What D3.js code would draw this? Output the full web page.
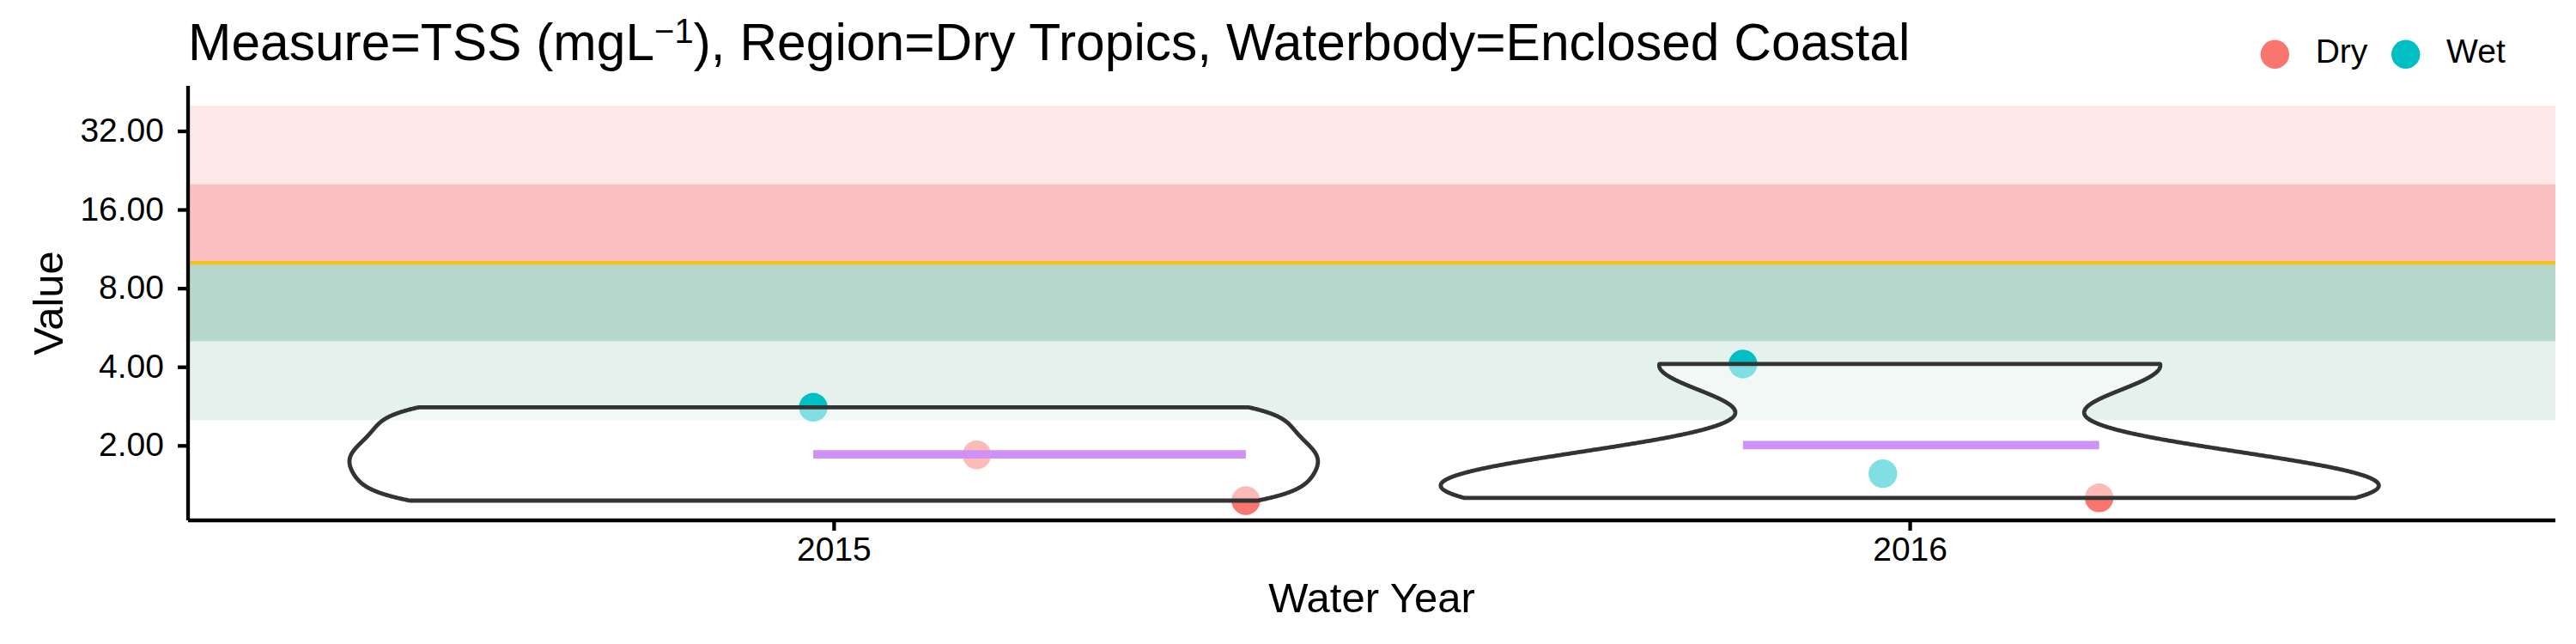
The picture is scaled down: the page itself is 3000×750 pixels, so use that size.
<!DOCTYPE html>
<html><head><meta charset="utf-8">
<script src="https://cdn.jsdelivr.net/npm/d3@7"></script>
<style>
body{margin:0;background:#fff}
svg{display:block}
text{font-family:"Liberation Sans", Arial, Helvetica, sans-serif; fill:#000}
</style>
</head><body>
<svg id="chart" width="3000" height="750"></svg>
<script>
// ---------------- data ----------------
const years = ["2015", "2016"];
const seasons = ["Dry", "Wet"];
const seasonColors = ["#F8766D", "#00BFC4"];

const pointYear   = ["2015", "2015", "2015", "2016", "2016", "2016"];
const pointSeason = ["Wet",  "Dry",  "Dry",  "Wet",  "Wet",  "Dry"];
const pointValue  = [2.80,   1.84,   1.23,   4.10,   1.56,   1.26];
const pointJitter = [-0.019, 0.133,  0.383,  -0.155, -0.025, 0.176]; // horizontal jitter, in category steps

const bandLow    = [20, 10, 5, 2.5];
const bandHigh   = [40, 20, 10, 5];
const bandColors = ["#FCE8E9", "#F9BFC1", "#B7D8CD", "#E5F1EC"];
const guideline  = 10;

const yTicks = [2, 4, 8, 16, 32];
const titleMain = "Measure=TSS (mgL";
const titleSup = "\u22121";
const titleRest = "), Region=Dry Tropics, Waterbody=Enclosed Coastal";
const xTitle = "Water Year";
const yTitle = "Value";

// ---------------- layout ----------------
const plot = {left: 219, right: 2976, top: 100, bottom: 606};
const svg = d3.select("#chart");

const points = pointValue.map((v, i) => ({year: pointYear[i], season: pointSeason[i], value: v, jitter: pointJitter[i]}));

// y scale: log2 with 5% expansion of the data range (points + bands)
const lmin = Math.log2(d3.min(pointValue.concat(bandLow)));
const lmax = Math.log2(d3.max(pointValue.concat(bandHigh)));
const ex = (lmax - lmin) * 0.05;
const y = d3.scaleLog().base(2).domain([Math.pow(2, lmin - ex), Math.pow(2, lmax + ex)]).range([plot.bottom, plot.top]);

const x = d3.scalePoint().domain(years).range([plot.left, plot.right]).padding(0.6);
const step = x.step();
const color = d3.scaleOrdinal().domain(seasons).range(seasonColors);

// ---------------- bands ----------------
svg.append("g").selectAll("rect").data(bandLow).join("rect")
  .attr("x", plot.left).attr("width", plot.right - plot.left)
  .attr("y", (d, i) => y(bandHigh[i]))
  .attr("height", (d, i) => y(d) - y(bandHigh[i]))
  .attr("fill", (d, i) => bandColors[i]);

svg.append("line")
  .attr("x1", plot.left).attr("x2", plot.right)
  .attr("y1", y(guideline)).attr("y2", y(guideline))
  .attr("stroke", "#F2C318").attr("stroke-width", 4.3);

// ---------------- points ----------------
svg.append("g").selectAll("circle").data(points).join("circle")
  .attr("cx", d => x(d.year) + d.jitter * step)
  .attr("cy", d => y(d.value))
  .attr("r", 16.7)
  .attr("fill", d => color(d.season));

// ---------------- violins ----------------
function kdeGroup(vals) {
  const lv = vals.map(v => Math.log2(v));
  const n = lv.length;
  const sd = d3.deviation(lv);
  const sorted = lv.slice().sort(d3.ascending);
  const iqr = d3.quantileSorted(sorted, 0.75) - d3.quantileSorted(sorted, 0.25);
  const bw = 0.9 * Math.min(sd, iqr / 1.34) * Math.pow(n, -0.2);
  const lo = d3.min(lv), hi = d3.max(lv);
  const grid = d3.range(512).map(k => lo + (hi - lo) * k / 511);
  return grid.map(t => ({
    t,
    dens: d3.sum(lv, xi => Math.exp(-0.5 * ((t - xi) / bw) ** 2)) / (n * bw * Math.sqrt(2 * Math.PI))
  }));
}
const groups = years.map(yr => ({year: yr, pts: points.filter(p => p.year === yr)}));
groups.forEach(g => { g.dens = kdeGroup(g.pts.map(p => p.value)); });
const maxDens = d3.max(groups, g => d3.max(g.dens, d => d.dens));
const halfW = 0.45 * step;

const area = d3.area()
  .y(d => y(Math.pow(2, d.t)))
  .x0(d => d.cx - d.dens / maxDens * halfW)
  .x1(d => d.cx + d.dens / maxDens * halfW);

svg.append("g").selectAll("path").data(groups).join("path")
  .attr("d", g => area(g.dens.map(d => ({...d, cx: x(g.year)}))))
  .attr("fill", "#ffffff").attr("fill-opacity", 0.5)
  .attr("stroke", "#333333").attr("stroke-width", 4.8).attr("stroke-linejoin", "round");

// ---------------- mean (log scale) lines ----------------
svg.append("g").selectAll("line").data(groups).join("line")
  .attr("x1", g => x(g.year) + d3.min(g.pts, p => p.jitter) * step)
  .attr("x2", g => x(g.year) + d3.max(g.pts, p => p.jitter) * step)
  .attr("y1", g => y(Math.pow(2, d3.mean(g.pts, p => Math.log2(p.value)))))
  .attr("y2", g => y(Math.pow(2, d3.mean(g.pts, p => Math.log2(p.value)))))
  .attr("stroke", "#D091F7").attr("stroke-width", 9.7);

// ---------------- axes ----------------
const yAxis = d3.axisLeft(y).tickValues(yTicks).tickFormat(d3.format(".2f")).tickSize(12).tickPadding(16);
const gy = svg.append("g").attr("transform", `translate(${plot.left},0)`).call(yAxis);
gy.select(".domain").attr("d", `M0,${plot.top}V${plot.bottom}`).attr("stroke", "#000").attr("stroke-width", 4.3);
gy.selectAll(".tick line").attr("stroke", "#000").attr("stroke-width", 4.3);
gy.selectAll(".tick text").attr("font-size", 39).attr("font-family", "Liberation Sans, Arial, sans-serif")
  .attr("fill", "#000").attr("dy", null).attr("y", 12);

const xAxis = d3.axisBottom(x).tickSize(12).tickPadding(10);
const gx = svg.append("g").attr("transform", `translate(0,${plot.bottom})`).call(xAxis);
gx.select(".domain").attr("d", `M${plot.left},0H${plot.right}`).attr("stroke", "#000").attr("stroke-width", 4.3);
gx.selectAll(".tick line").attr("stroke", "#000").attr("stroke-width", 4.3);
gx.selectAll(".tick text").attr("font-size", 39).attr("font-family", "Liberation Sans, Arial, sans-serif")
  .attr("fill", "#000").attr("dy", null).attr("y", 47);

// axis titles
svg.append("text").attr("x", (plot.left + plot.right) / 2).attr("y", 713)
  .attr("text-anchor", "middle").attr("font-size", 49).text(xTitle);
svg.append("text").attr("transform", `translate(73,${(plot.top + plot.bottom) / 2}) rotate(-90)`)
  .attr("text-anchor", "middle").attr("font-size", 49).text(yTitle);

// title
const t = svg.append("text").attr("x", plot.left).attr("y", 70).attr("font-size", 60.5);
t.append("tspan").text(titleMain);
t.append("tspan").attr("font-size", 40).attr("dy", -20).text(titleSup);
t.append("tspan").attr("dy", 20).text(titleRest);

// legend
const legX = [2649.3, 2801.7];
const lg = svg.append("g").selectAll("g").data(seasons).join("g")
  .attr("transform", (d, i) => `translate(${legX[i]},63.3)`);
lg.append("circle").attr("r", 16.7).attr("fill", d => color(d));
lg.append("text").attr("x", 47.4).attr("y", 10).attr("font-size", 39).text(d => d);
</script>
</body></html>
